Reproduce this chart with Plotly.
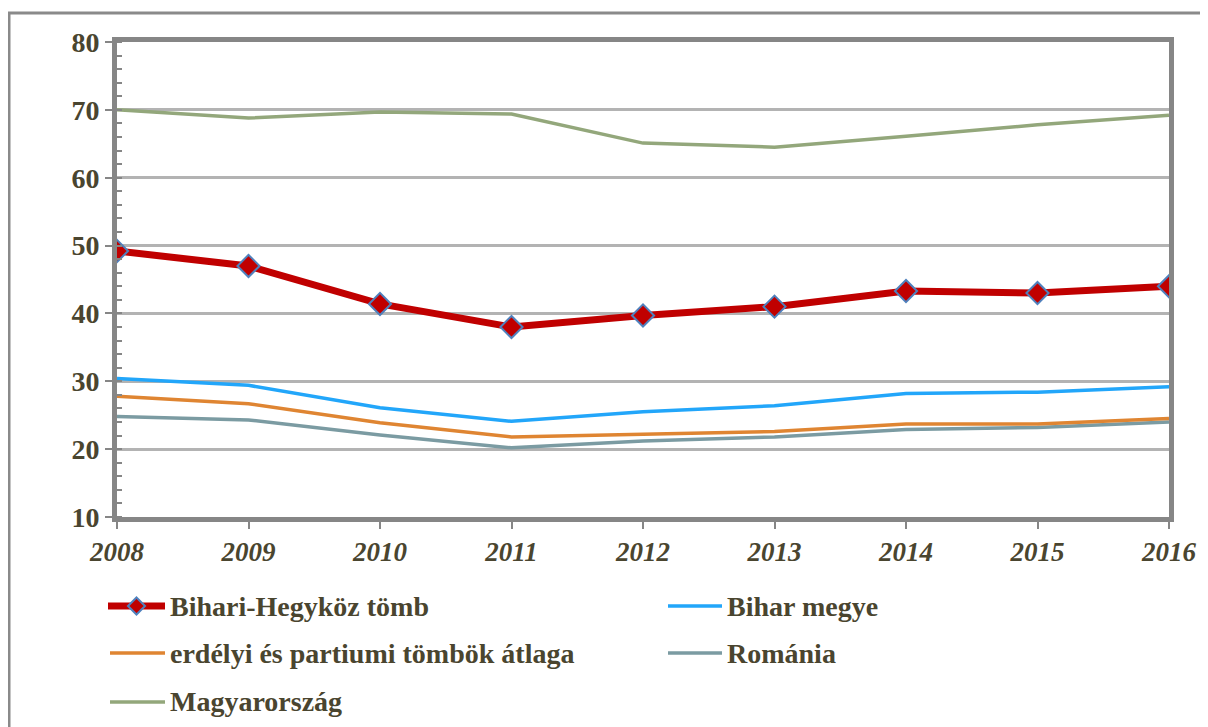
import plotly.graph_objects as go

years = [2008, 2009, 2010, 2011, 2012, 2013, 2014, 2015, 2016]
bihari_hegykoz = [49.2, 47.0, 41.4, 38.0, 39.7, 41.0, 43.3, 43.0, 44.0]
bihar_megye = [30.4, 29.4, 26.1, 24.1, 25.5, 26.4, 28.2, 28.4, 29.2]
erdelyi_partiumi = [27.8, 26.7, 23.9, 21.8, 22.2, 22.6, 23.7, 23.7, 24.5]
romania = [24.8, 24.3, 22.1, 20.2, 21.2, 21.8, 22.9, 23.2, 24.0]
magyarorszag = [70.0, 68.8, 69.7, 69.4, 65.1, 64.5, 66.1, 67.8, 69.2]

series_names = ["Bihari-Hegyköz tömb", "Bihar megye", "erdélyi és partiumi tömbök átlaga",
                "Románia", "Magyarország"]
y_ticks = [10, 20, 30, 40, 50, 60, 70, 80]

RED = "#c00000"
BLUE = "#22a6fa"
ORANGE = "#df8532"
TEAL = "#7b9ba2"
GREEN = "#93a77b"
TXT = "#4a452f"
FONT = "Liberation Serif"

OFF = 8  # default page body margin
W, H = 1208 - OFF, 727 - OFF
L, R, T, B = 117 - OFF, 1169 - OFF, 42 - OFF, 517 - OFF

fig = go.Figure()
fig.add_trace(go.Scatter(x=years, y=magyarorszag, mode="lines", name=series_names[4],
                         line=dict(color=GREEN, width=3.5)))
fig.add_trace(go.Scatter(x=years, y=romania, mode="lines", name=series_names[3],
                         line=dict(color=TEAL, width=3.5)))
fig.add_trace(go.Scatter(x=years, y=erdelyi_partiumi, mode="lines", name=series_names[2],
                         line=dict(color=ORANGE, width=3.5)))
fig.add_trace(go.Scatter(x=years, y=bihar_megye, mode="lines", name=series_names[1],
                         line=dict(color=BLUE, width=3.5)))
fig.add_trace(go.Scatter(x=years, y=bihari_hegykoz, mode="lines+markers", name=series_names[0],
                         line=dict(color=RED, width=7),
                         marker=dict(symbol="diamond", size=17, color=RED,
                                     line=dict(color="#4f81bd", width=2))))


def px(xp):
    # xp: screen pixel in reference image
    return (xp - OFF - L) / (R - L)


def py(yp):
    return (B - (yp - OFF)) / (B - T)


shapes = []
annotations = []
# outer frame (top and left)
shapes.append(dict(type="path", xref="paper", yref="paper",
                   path=f"M {px(9)},{py(740)} L {px(9)},{py(13)} L {px(1220)},{py(13)}",
                   line=dict(color="#8a8a8a", width=3)))

legend_items = [
    (series_names[0], RED, 7, 108, 165, 606, True),
    (series_names[1], BLUE, 3.5, 668, 722, 606, False),
    (series_names[2], ORANGE, 3.5, 110, 165, 653, False),
    (series_names[3], TEAL, 3.5, 668, 722, 653, False),
    (series_names[4], GREEN, 3.5, 110, 165, 702, False),
]
for name, col, lw, x0, x1, yc, diamond in legend_items:
    shapes.append(dict(type="line", xref="paper", yref="paper",
                       x0=px(x0), x1=px(x1), y0=py(yc), y1=py(yc),
                       line=dict(color=col, width=lw)))
    if diamond:
        cx, cy, s = (x0 + x1) / 2, yc, 8.5
        shapes.append(dict(type="path", xref="paper", yref="paper",
                           path=(f"M {px(cx)},{py(cy - s)} L {px(cx + s)},{py(cy)} "
                                 f"L {px(cx)},{py(cy + s)} L {px(cx - s)},{py(cy)} Z"),
                           fillcolor=RED, line=dict(color="#4f81bd", width=2)))
    annotations.append(dict(xref="paper", yref="paper", x=px(x1 + 3), y=py(yc),
                            xanchor="left", yanchor="middle", showarrow=False,
                            text=f"<b>{name}</b>",
                            font=dict(family=FONT, size=28, color=TXT)))

fig.update_layout(
    width=W, height=H,
    margin=dict(l=L, r=W - R, t=T, b=H - B),
    paper_bgcolor="white", plot_bgcolor="white",
    showlegend=False,
    shapes=shapes, annotations=annotations,
    font=dict(family=FONT, color=TXT),
)
fig.update_xaxes(
    range=[2008, 2016], tickvals=years,
    ticktext=[f"<b><i>{y}</i></b>" for y in years],
    tickfont=dict(family=FONT, size=27, color=TXT),
    showgrid=False, zeroline=False,
    showline=True, linecolor="#868686", linewidth=5, mirror=True,
    ticks="outside", ticklen=7, tickwidth=2, tickcolor="#868686",
)
fig.update_yaxes(
    range=[10, 80], tickvals=y_ticks,
    ticktext=[f"<b>{v}</b>" for v in y_ticks],
    tickfont=dict(family=FONT, size=28, color=TXT),
    showgrid=True, gridcolor="#b3b3b3", gridwidth=2.5, zeroline=False,
    showline=True, linecolor="#868686", linewidth=5, mirror=True,
    ticks="outside", ticklen=7, tickwidth=2, tickcolor="#868686",
    minor=dict(dtick=2, ticks="inside", ticklen=5, tickwidth=2, tickcolor="#868686", showgrid=False),
)

fig.write_html("out.html")
